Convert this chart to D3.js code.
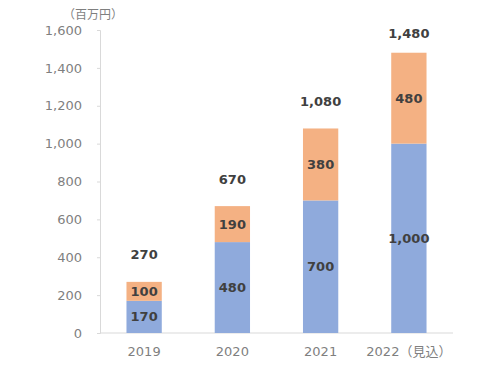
<!DOCTYPE html>
<html><head><meta charset="utf-8">
<script src="https://cdn.jsdelivr.net/npm/d3@7"></script>
<style>body{margin:0;background:#fff;} svg{display:block;}</style>
</head><body>
<svg id="c" width="500" height="375"></svg>
<script>
const categories = ["2019", "2020", "2021", "2022（見込）"];
const seriesBlue = [170, 480, 700, 1000];
const seriesOrange = [100, 190, 380, 480];
const totals = [270, 670, 1080, 1480];
const yTicks = [0, 200, 400, 600, 800, 1000, 1200, 1400, 1600];
const unitLabel = "（百万円）";

const svg = d3.select("#c");
const font = "'DejaVu Sans', Verdana, 'Noto Sans CJK JP', sans-serif";
const m = {left: 100, right: 47, top: 30, bottom: 42};
const W = 500, H = 375;
const x = d3.scaleBand().domain(categories).range([m.left, W - m.right]).paddingInner(0.6).paddingOuter(0.3);
const y = d3.scaleLinear().domain([0, 1600]).range([H - m.bottom, m.top]);

// y axis
const ya = svg.append("g").attr("transform", `translate(${m.left},0)`)
  .call(d3.axisLeft(y).tickValues(yTicks).tickSize(3).tickPadding(15).tickFormat(d3.format(",")));
ya.select(".domain").attr("stroke", "#d9d9d9");
ya.selectAll(".tick line").attr("stroke", "#d9d9d9");
ya.selectAll("text").attr("fill", "#7f7f7f").style("font-family", font).style("font-size", "13px");
ya.select(".tick:first-of-type line").remove();

// baseline
svg.append("line").attr("x1", m.left).attr("x2", W - m.right)
  .attr("y1", y(0)).attr("y2", y(0)).attr("stroke", "#d9d9d9");

// unit
svg.append("text").attr("x", 93).attr("y", 19).attr("text-anchor", "middle")
  .attr("fill", "#7f7f7f").style("font-family", font).style("font-size", "12px").text(unitLabel);

const g = svg.append("g");
categories.forEach((c, i) => {
  const b = seriesBlue[i], o = seriesOrange[i];
  g.append("rect").attr("x", x(c)).attr("width", x.bandwidth())
    .attr("y", y(b)).attr("height", y(0) - y(b)).attr("fill", "#8faadc");
  g.append("rect").attr("x", x(c)).attr("width", x.bandwidth())
    .attr("y", y(b + o)).attr("height", y(b) - y(b + o)).attr("fill", "#f4b183");
  const cx = x(c) + x.bandwidth() / 2;
  const lab = (yy, t) => g.append("text").attr("x", cx).attr("y", yy).attr("text-anchor", "middle")
    .attr("dominant-baseline", "central").attr("fill", "#404040")
    .style("font-family", font).style("font-size", "13px").style("font-weight", "bold").text(t);
  lab((y(0) + y(b)) / 2, d3.format(",")(b));
  lab((y(b) + y(b + o)) / 2, d3.format(",")(o));
  lab(Math.max(y(totals[i]) - 27, y(1600) + 3), d3.format(",")(totals[i]));
});

// x labels
categories.forEach(c => {
  svg.append("text").attr("x", x(c) + x.bandwidth() / 2).attr("y", 356).attr("text-anchor", "middle")
    .attr("fill", "#7f7f7f").style("font-family", font).style("font-size", "13px").text(c);
});
</script>
</body></html>
